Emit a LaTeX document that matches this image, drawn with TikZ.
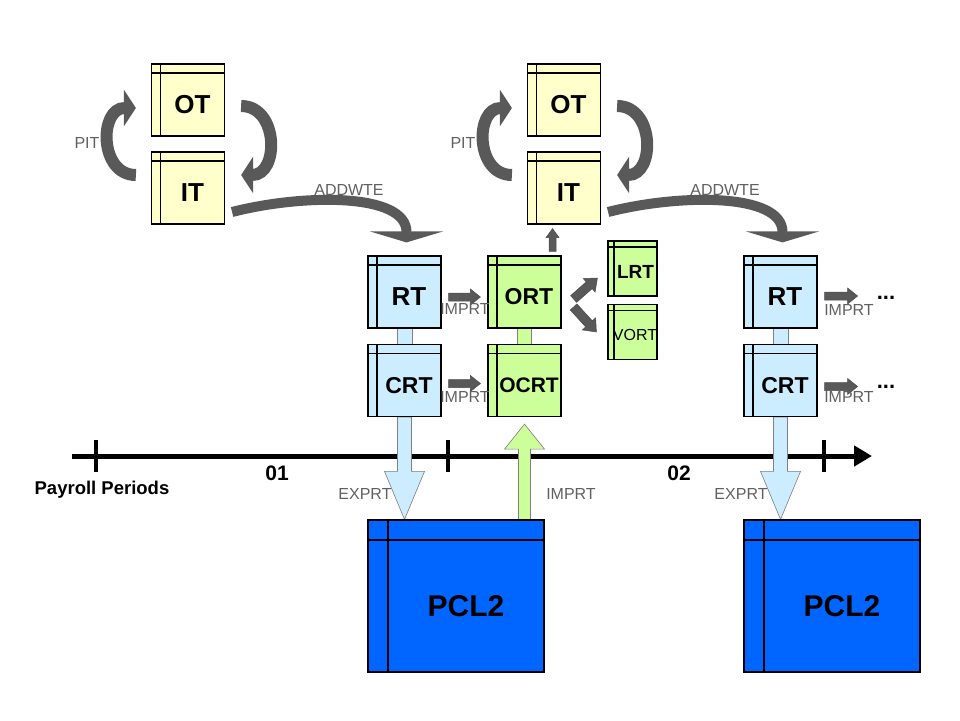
\documentclass[tikz,border=0pt]{standalone}
\usepackage{fontspec}
\setmainfont{Liberation Sans}
\usetikzlibrary{arrows.meta,calc,backgrounds}
\definecolor{ylw}{HTML}{FFFFCC}
\definecolor{lblue}{HTML}{CCECFF}
\definecolor{lgreen}{HTML}{CCFF99}
\definecolor{pclblue}{HTML}{0066FF}
\definecolor{arrgray}{HTML}{595959}
\definecolor{labgray}{HTML}{606060}
\newcommand{\fsz}[1]{\fontsize{#1}{#1}\selectfont}
% text centred in the inner field of a table box
\newcommand{\tname}[2][9pt]{\makebox[0pt]{\hspace*{#1}\raisebox{0pt}[\dimexpr\height+#1\relax][0pt]{#2}}}
% block arrow: style, from, to, half shaft, half head, head length
\newcommand{\blockarrow}[6]{%
  \path ($(#3)!#6!(#2)$) coordinate (bh);
  \draw[#1] ($(#2)!#4!90:(#3)$) -- ($(bh)!#4!90:(#3)$) -- ($(bh)!#5!90:(#3)$) -- (#3)
    -- ($(bh)!#5!-90:(#3)$) -- ($(bh)!#4!-90:(#3)$) -- ($(#2)!#4!-90:(#3)$) -- cycle;}

\begin{document}
\begin{tikzpicture}[x=1pt, y=-1pt,
  tbl/.style={draw, line width=1.2pt, inner sep=0pt, minimum width=73pt, minimum height=72pt,
              font=\fsz{26}\bfseries,
              path picture={\draw[line width=1.2pt]
                ([xshift=#1]path picture bounding box.north west) -- ([xshift=#1]path picture bounding box.south west)
                ([yshift=-#1]path picture bounding box.north west) -- ([yshift=-#1]path picture bounding box.north east);}},
  tbl/.default=9pt,
  ytbl/.style={tbl, fill=ylw},
  btbl/.style={tbl, fill=lblue},
  gtbl/.style={tbl, fill=lgreen},
  stbl/.style={tbl=6pt, fill=lgreen, minimum width=49pt, minimum height=55pt},
  ptbl/.style={tbl=20pt, fill=pclblue, minimum width=176pt, minimum height=152pt, font=\fsz{30}\bfseries},
  lab/.style={font=\fsz{16}, text=labgray, inner sep=0pt},
  garr/.style={fill=arrgray, draw=black!70, line width=0.5pt},
  exparr/.style={fill=lblue, draw=gray, line width=0.6pt},
  imparr/.style={fill=lgreen, draw=gray, line width=0.6pt},
  bar/.style={fill=#1, draw=gray, line width=0.6pt},
  curv/.style={draw=arrgray, line width=#1}
]
\useasboundingbox (0,0) rectangle (960,720);
% ----- period 01: OT / IT -----
\node[ytbl] (ot1) at (188,100) {\tname{OT}};
\node[ytbl] (it1) at (188,188) {\tname{IT}};
\node[lab]  (pit1) at (87,143) {PIT};
% ----- period 02: OT / IT -----
\node[ytbl] (ot2) at (564,100) {\tname{OT}};
\node[ytbl] (it2) at (564,188) {\tname{IT}};
\node[lab]  (pit2) at (463,143) {PIT};
% ----- result tables -----
\node[btbl] (rt1)  at (404.5,292)   {\tname{RT}};
\node[btbl, font=\fsz{23}\bfseries] (crt1) at (404.5,380.5) {\tname{CRT}};
\node[gtbl, font=\fsz{23}\bfseries] (ort1) at (524.5,292)   {\tname{ORT}};
\node[gtbl, font=\fsz{21}\bfseries] (ocrt1) at (524.5,380.5) {\tname{OCRT}};
\node[stbl, font=\fsz{19}\bfseries] (lrt1)  at (632.5,268.5) {\tname[6pt]{LRT}};
\node[stbl, font=\fsz{16}]          (vort1) at (632.5,332)   {\tname[5pt]{VORT}};
\node[btbl] (rt2)  at (780.5,292)   {\tname{RT}};
\node[btbl, font=\fsz{23}\bfseries] (crt2) at (780.5,380.5) {\tname{CRT}};
% ----- cluster PCL2 -----
\node[ptbl] (pcl1) at (456,596) {\tname[20pt]{PCL2}};
\node[ptbl] (pcl2) at (832,596) {\tname[20pt]{PCL2}};
% ----- payroll periods -----
\node[font=\fsz{21}\bfseries] (per1) at (277,473) {01};
\node[font=\fsz{21}\bfseries] (per2) at (679,473) {02};
\node[font=\fsz{18.5}\bfseries] (pper) at (102,490) {Payroll Periods};
% ----- curved arrows -----
\draw[curv=12, -{Triangle[length=12pt,width=36pt]}]
  ([shift={(-15,-13)}]it1.west) .. controls +(-37,0) and +(-37,0) .. ([shift={(-15,8)}]ot1.west);
\draw[curv=12, -{Triangle[length=12pt,width=36pt]}]
  ([shift={(16,6)}]ot1.east) .. controls +(38,0) and +(38,0) .. ([shift={(16,-13)}]it1.east);
\draw[curv=12, -{Triangle[length=12pt,width=36pt]}]
  ([shift={(-15,-13)}]it2.west) .. controls +(-37,0) and +(-37,0) .. ([shift={(-15,8)}]ot2.west);
\draw[curv=12, -{Triangle[length=12pt,width=36pt]}]
  ([shift={(16,6)}]ot2.east) .. controls +(38,0) and +(38,0) .. ([shift={(16,-13)}]it2.east);
\draw[curv=10, -{Triangle[length=11pt,width=73pt]}]
  ([shift={(7,24)}]it1.east) .. controls +(70,-18) and +(0,-50) .. ([shift={(2,-13)}]rt1.north);
\draw[curv=10, -{Triangle[length=11pt,width=73pt]}]
  ([shift={(7,24)}]it2.east) .. controls +(70,-18) and +(0,-50) .. ([shift={(2,-13)}]rt2.north);
\node[lab] (add1) at (349,190) {ADDWTE};
\node[lab] (add2) at (725,190) {ADDWTE};
% ----- block arrows -----
\blockarrow{garr}{[shift={(7,5)}]rt1.east}{[shift={(-7,5)}]ort1.west}{4pt}{8pt}{10pt}
\blockarrow{garr}{[shift={(7,3)}]crt1.east}{[shift={(-7,3)}]ocrt1.west}{4pt}{8pt}{10pt}
\blockarrow{garr}{[shift={(7,4)}]rt2.east}{[shift={(40,4)}]rt2.east}{4pt}{8pt}{10pt}
\blockarrow{garr}{[shift={(7,6)}]crt2.east}{[shift={(40,6)}]crt2.east}{4pt}{8pt}{10pt}
\blockarrow{garr}{[shift={(28,-4)}]ort1.north}{[shift={(-11.5,4)}]it2.south}{3.5pt}{6.5pt}{9pt}
\blockarrow{garr}{[shift={(12,7)}]ort1.east}{[shift={(-10,9.5)}]lrt1.west}{4.5pt}{9pt}{11pt}
\blockarrow{garr}{[shift={(12,15)}]ort1.east}{[shift={(-11,0)}]vort1.west}{4.5pt}{9pt}{11pt}
\node[lab] (imp1) at (465,309) {IMPRT};
\node[lab] (imp2) at (465,397) {IMPRT};
\node[lab] (imp3) at (849,310) {IMPRT};
\node[lab] (imp4) at (849,397) {IMPRT};
\node[font=\fsz{22}\bfseries] (dots1) at (886,298) {...};
\node[font=\fsz{22}\bfseries] (dots2) at (886,387) {...};
\node[lab] (exp1) at (365,494) {EXPRT};
\node[lab] (exp2) at (741,494) {EXPRT};
\node[lab] (imp5) at (571,494) {IMPRT};
% ----- timeline, bars and cluster arrows (behind) -----
\begin{pgfonlayer}{background}
  \coordinate (tl0) at (72,456);
  \coordinate (tl1) at (872,456);
  \draw[line width=5pt, -{Triangle[length=18pt,width=20pt]}] (tl0) -- (tl1);
  \foreach \x in {96,448,824}{\draw[line width=3.5pt] (\x,440) -- (\x,472);}
  \filldraw[bar=lblue]  ([xshift=-7.5pt]rt1.south) rectangle ([xshift=7.5pt]crt1.north);
  \filldraw[bar=lgreen] ([xshift=-7pt]ort1.south) rectangle ([xshift=7pt]ocrt1.north);
  \filldraw[bar=lblue]  ([xshift=-7.5pt]rt2.south) rectangle ([xshift=7.5pt]crt2.north);
  \coordinate (ex1) at (crt1.south |- pcl1.north);
  \coordinate (ex2) at (crt2.south |- pcl2.north);
  \coordinate (im1) at (ocrt1.south |- pcl1.north);
  \blockarrow{exparr}{crt1.south}{ex1}{7pt}{20pt}{48pt}
  \blockarrow{exparr}{crt2.south}{ex2}{7pt}{20pt}{48pt}
  \blockarrow{imparr}{im1}{[shift={(0,7)}]ocrt1.south}{6pt}{20pt}{25pt}
\end{pgfonlayer}
\end{tikzpicture}
\end{document}
